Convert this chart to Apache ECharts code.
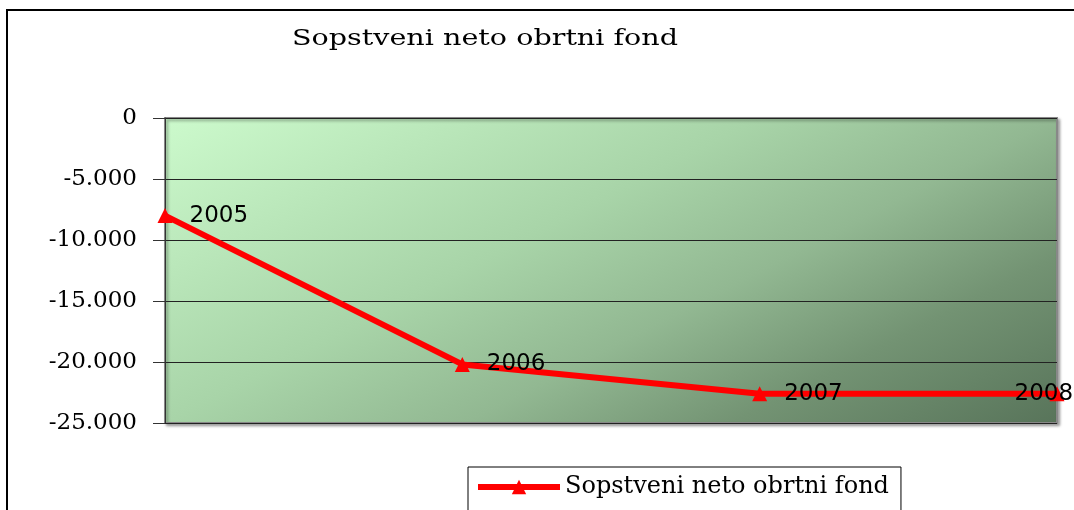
<!DOCTYPE html>
<html>
<head>
<meta charset="utf-8">
<script src="https://cdn.jsdelivr.net/npm/echarts@6/dist/echarts.min.js"></script>
<style>
html, body { margin: 0; padding: 0; background: #fff; }
#app { width: 1074px; height: 510px; }
</style>
</head>
<body>
<div id="app"></div>
<script>
var years = ['2005', '2006', '2007', '2008'];
var values = [-8000, -20200, -22600, -22600];
var seriesName = 'Sopstveni neto obrtni fond';

window.onload = function() {
    var myChart = echarts.init(document.getElementById('app'));

    // last label is pulled back inside the frame, like the original
    var pointData = values.map(function(v, i) {
        if (i === values.length - 1) {
            return { value: v, label: { offset: [-67, 0] } };
        }
        return v;
    });

    var option = {
        animation: false,
        graphic: [{
            type: 'text',
            x: 292,
            y: 28,
            scaleX: 1.3,
            style: {
                text: seriesName,
                fontFamily: 'DejaVu Serif',
                fontSize: 22,
                fill: '#000'
            }
        }, {
            type: 'rect',
            shape: { x: 7, y: 10, width: 1100, height: 600 },
            style: { fill: 'none', stroke: '#000', lineWidth: 2 },
            z: 100
        }],
        legend: {
            data: [seriesName],
            left: 468,
            top: 467,
            padding: [8, 12, 12, 7],
            borderColor: '#000',
            borderWidth: 1,
            itemWidth: 82,
            itemHeight: 18,
            itemGap: 6,
            lineStyle: { width: 6 },
            textStyle: {
                fontFamily: 'DejaVu Serif',
                fontSize: 24,
                color: '#000'
            }
        },
        grid: {
            left: 165,
            right: 17,
            top: 118,
            bottom: 87,
            show: true,
            borderColor: '#888',
            borderWidth: 2,
            shadowColor: 'rgba(0,0,0,0.35)',
            shadowBlur: 3,
            shadowOffsetX: 2,
            shadowOffsetY: 2,
            backgroundColor: new echarts.graphic.LinearGradient(165, 118, 476, 723, [
                { offset: 0, color: '#ccfacc' },
                { offset: 0.4, color: '#a8d4a8' },
                { offset: 0.6, color: '#92b892' },
                { offset: 0.78, color: '#739373' },
                { offset: 1, color: '#58745a' }
            ], true)
        },
        xAxis: {
            type: 'category',
            data: years,
            boundaryGap: false,
            axisLine: { show: false },
            axisTick: { show: false },
            axisLabel: { show: false },
            splitLine: { show: false }
        },
        yAxis: {
            type: 'value',
            min: -25000,
            max: 0,
            interval: 5000,
            axisLine: { show: true, lineStyle: { color: '#333', width: 1 } },
            axisTick: { show: true, length: 12, lineStyle: { color: '#333' } },
            splitLine: { lineStyle: { color: '#222', width: 1 } },
            axisLabel: {
                margin: 28,
                fontFamily: 'DejaVu Serif',
                fontSize: 23,
                color: '#000',
                formatter: function(v) {
                    var s = Math.abs(v).toString().replace(/\B(?=(\d{3})+(?!\d))/g, '.');
                    return (v < 0 ? '-' : '') + s;
                }
            }
        },
        series: [{
            name: seriesName,
            type: 'line',
            data: pointData,
            clip: false,
            symbol: 'triangle',
            symbolSize: 15,
            lineStyle: { color: '#ff0000', width: 6 },
            itemStyle: { color: '#ff0000' },
            label: {
                show: true,
                position: 'right',
                distance: 17,
                fontFamily: 'DejaVu Sans',
                fontSize: 23,
                color: '#000',
                formatter: function(p) { return p.name; }
            },
            z: 5
        }]
    };
    myChart.setOption(option);
};
</script>
</body>
</html>
